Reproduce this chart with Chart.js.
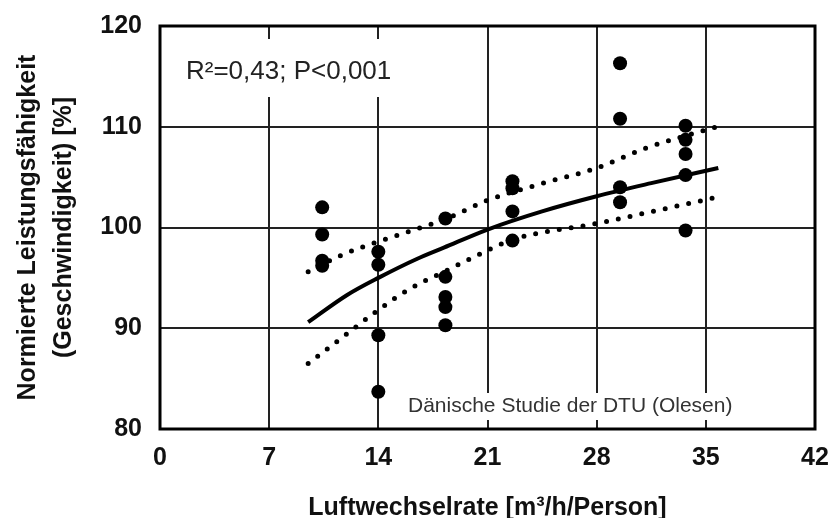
<!DOCTYPE html>
<html lang="de">
<head>
    <meta charset="UTF-8">
    <title>Luftwechselrate und Leistungsfähigkeit</title>
    <script src="https://cdn.jsdelivr.net/npm/chart.js"></script>
    <style>
        body { margin: 0; background: #fff; }
        #wrap { width: 831px; height: 518px; }
    </style>
</head>
<body>
    <div id="wrap"><canvas id="chart" width="831" height="518"></canvas></div>

    <script>
        // measured points (air change rate / normalised performance)
        const pointX = [10.4, 10.4, 10.4, 10.4,
                        14, 14, 14, 14,
                        18.3, 18.3, 18.3, 18.3, 18.3,
                        22.6, 22.6, 22.6, 22.6,
                        29.5, 29.5, 29.5, 29.5,
                        33.7, 33.7, 33.7, 33.7, 33.7];
        const pointY = [102.0, 99.3, 96.7, 96.2,
                        97.6, 96.3, 89.3, 83.7,
                        100.9, 95.1, 93.1, 92.1, 90.3,
                        104.6, 103.9, 101.6, 98.7,
                        116.3, 110.8, 104.0, 102.5,
                        110.1, 108.7, 107.3, 105.2, 99.7];

        // regression curve and confidence band
        const fitX = [9.5, 12, 14, 16.5, 18.2, 21, 24.5, 28, 31.5, 35.8];
        const fitY = [90.6, 93.3, 95.0, 96.9, 98.0, 99.8, 101.6, 103.1, 104.4, 105.9];
        const upperX = [9.5, 11.7, 14, 18.4, 21, 24.8, 28, 31.2, 35.7];
        const upperY = [95.6, 97.3, 98.6, 100.9, 102.7, 104.5, 105.9, 107.9, 110.0];
        const lowerX = [9.5, 11.7, 13.9, 16, 18.2, 20.7, 22.6, 28, 35.7];
        const lowerY = [86.5, 89.1, 91.7, 93.9, 95.6, 97.5, 98.8, 100.4, 103.0];

        const xTicks = [0, 7, 14, 21, 28, 35, 42];
        const yTicks = [80, 90, 100, 110, 120];

        const FONT = "'Liberation Sans', Arial, sans-serif";
        const toXY = (xs, ys) => xs.map((x, i) => ({ x: x, y: ys[i] }));

        const bandStyle = {
            type: 'scatter',
            showLine: true,
            borderColor: '#000',
            borderWidth: 5,
            borderDash: [0, 12],
            borderCapStyle: 'round',
            pointRadius: 0,
            tension: 0.4,
            cubicInterpolationMode: 'monotone'
        };

        // white label boxes + frame, drawn over the grid but under the data
        const overlay = {
            id: 'overlay',
            beforeDatasetsDraw(chart) {
                const { ctx, chartArea: a } = chart;
                ctx.save();
                ctx.fillStyle = '#fff';
                ctx.fillRect(a.left + 8, 39, 262, 58);
                ctx.fillRect(398, 393, 347, 27);

                ctx.lineWidth = 3;
                ctx.strokeStyle = '#000';
                ctx.strokeRect(a.left, a.top, a.right - a.left, a.bottom - a.top);

                ctx.textBaseline = 'middle';
                ctx.textAlign = 'left';
                ctx.fillStyle = '#222';
                ctx.font = '26px ' + FONT;
                ctx.fillText('R²=0,43; P<0,001', 186, 72);
                ctx.fillStyle = '#333';
                ctx.font = '21px ' + FONT;
                ctx.fillText('Dänische Studie der DTU (Olesen)', 408, 406);
                ctx.restore();
            }
        };

        new Chart(document.getElementById('chart'), {
            type: 'scatter',
            data: {
                datasets: [
                    Object.assign({ data: toXY(upperX, upperY) }, bandStyle),
                    Object.assign({ data: toXY(lowerX, lowerY) }, bandStyle),
                    {
                        type: 'scatter',
                        data: toXY(fitX, fitY),
                        showLine: true,
                        borderColor: '#000',
                        borderWidth: 4,
                        pointRadius: 0,
                        tension: 0.4,
                        cubicInterpolationMode: 'monotone'
                    },
                    {
                        type: 'scatter',
                        data: toXY(pointX, pointY),
                        pointRadius: 7,
                        pointBackgroundColor: '#000',
                        pointBorderWidth: 0
                    }
                ]
            },
            options: {
                responsive: false,
                animation: false,
                layout: { padding: { top: 26, right: 16, left: 0, bottom: 0 } },
                plugins: { legend: { display: false }, tooltip: { enabled: false } },
                scales: {
                    x: {
                        type: 'linear',
                        min: 0,
                        max: 42,
                        afterBuildTicks: s => { s.ticks = xTicks.map(v => ({ value: v })); },
                        afterFit: s => { s.height = 89; s.paddingLeft = 0; s.paddingRight = 0; },
                        grid: { color: '#222', lineWidth: 2, drawTicks: false },
                        border: { display: false },
                        ticks: {
                            color: '#111',
                            padding: 14,
                            maxRotation: 0,
                            font: { family: FONT, size: 25, weight: 'bold' }
                        },
                        title: {
                            display: true,
                            text: 'Luftwechselrate [m³/h/Person]',
                            color: '#111',
                            padding: { top: 0, bottom: -5 },
                            font: { family: FONT, size: 25, weight: 'bold' }
                        }
                    },
                    y: {
                        min: 80,
                        max: 120,
                        afterBuildTicks: s => { s.ticks = yTicks.map(v => ({ value: v })); },
                        afterFit: s => { s.width = 160; s.paddingTop = 0; s.paddingBottom = 0; },
                        grid: { color: '#222', lineWidth: 2, drawTicks: false },
                        border: { display: false },
                        ticks: {
                            color: '#111',
                            padding: 18,
                            font: { family: FONT, size: 25, weight: 'bold' }
                        },
                        title: {
                            display: true,
                            text: ['Normierte Leistungsfähigkeit', '(Geschwindigkeit) [%]'],
                            color: '#111',
                            padding: { top: 10, bottom: 0 },
                            font: { family: FONT, size: 25, weight: 'bold', lineHeight: 1.45 }
                        }
                    }
                }
            },
            plugins: [overlay]
        });
    </script>
</body>
</html>
